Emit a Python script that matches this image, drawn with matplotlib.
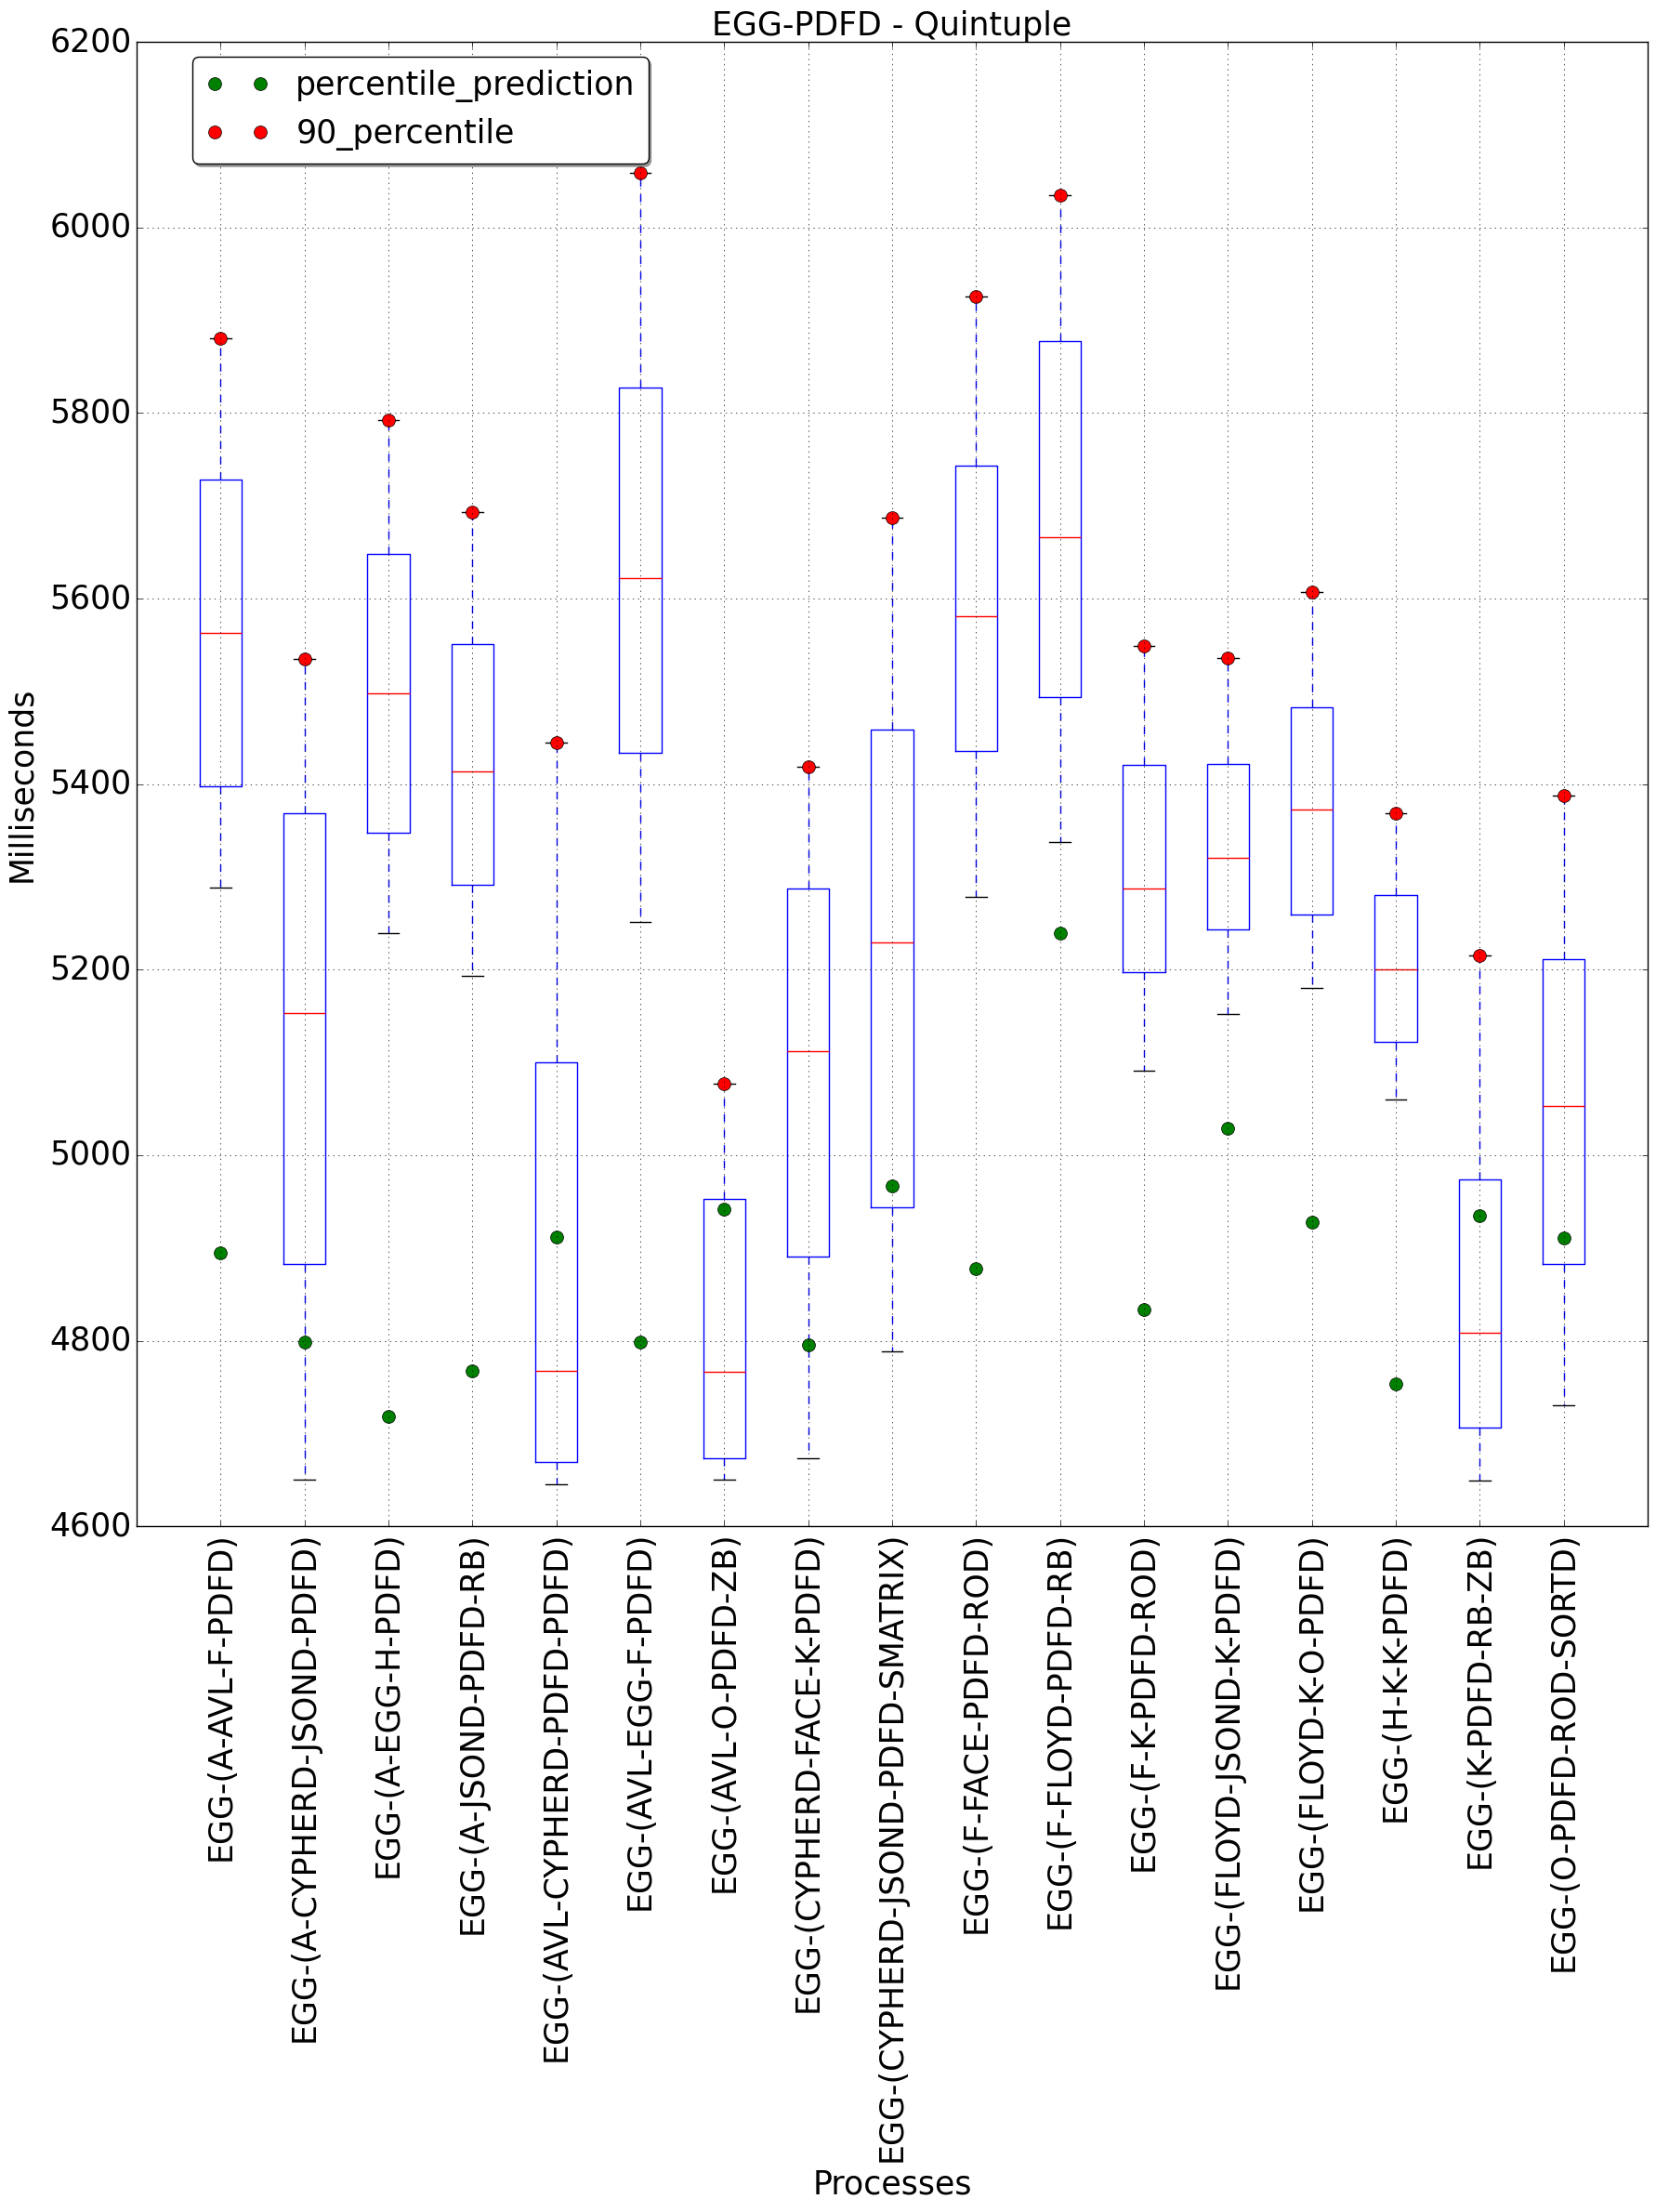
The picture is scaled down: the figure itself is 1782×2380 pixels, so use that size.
import matplotlib
matplotlib.use("Agg")
import matplotlib.pyplot as plt

plt.style.use("classic")

processes = [
    "EGG-(A-AVL-F-PDFD)",
    "EGG-(A-CYPHERD-JSOND-PDFD)",
    "EGG-(A-EGG-H-PDFD)",
    "EGG-(A-JSOND-PDFD-RB)",
    "EGG-(AVL-CYPHERD-PDFD-PDFD)",
    "EGG-(AVL-EGG-F-PDFD)",
    "EGG-(AVL-O-PDFD-ZB)",
    "EGG-(CYPHERD-FACE-K-PDFD)",
    "EGG-(CYPHERD-JSOND-PDFD-SMATRIX)",
    "EGG-(F-FACE-PDFD-ROD)",
    "EGG-(F-FLOYD-PDFD-RB)",
    "EGG-(F-K-PDFD-ROD)",
    "EGG-(FLOYD-JSOND-K-PDFD)",
    "EGG-(FLOYD-K-O-PDFD)",
    "EGG-(H-K-K-PDFD)",
    "EGG-(K-PDFD-RB-ZB)",
    "EGG-(O-PDFD-ROD-SORTD)",
]

# box statistics (ms)
whisker_low = [5289, 4650, 5239, 5193, 4645, 5251, 4650, 4673, 4789, 5278, 5338, 5091, 5152, 5180, 5060, 4649, 4730]
q1 = [5398, 4883, 5348, 5292, 4669, 5434, 4673, 4891, 4944, 5436, 5494, 5197, 5243, 5259, 5122, 4706, 4883]
median = [5563, 5153, 5498, 5414, 4768, 5622, 4767, 5112, 5229, 5581, 5666, 5287, 5321, 5373, 5200, 4809, 5053]
q3 = [5728, 5369, 5648, 5551, 5100, 5828, 4953, 5287, 5459, 5743, 5878, 5421, 5422, 5483, 5280, 4974, 5211]
p90 = [5881, 5535, 5792, 5693, 5445, 6059, 5077, 5419, 5687, 5926, 6035, 5549, 5536, 5607, 5369, 5215, 5388]
prediction = [4895, 4799, 4718, 4768, 4912, 4799, 4942, 4796, 4967, 4878, 5239, 4834, 5029, 4928, 4753, 4935, 4911]

positions = list(range(1, len(processes) + 1))
stats = [
    {"whislo": lo, "q1": a, "med": m, "q3": b, "whishi": hi, "fliers": []}
    for lo, a, m, b, hi in zip(whisker_low, q1, median, q3, p90)
]

fig = plt.figure(figsize=(17.82, 23.80), dpi=100, facecolor="white")
ax = fig.add_axes([0.0825, 0.310, 0.9125, 0.671])

ax.bxp(stats, positions=positions, widths=0.5)
ax.plot(positions, prediction, "go", markersize=10, label="percentile_prediction")
ax.plot(positions, p90, "ro", markersize=10, label="90_percentile")

ax.set_xlim(0, len(processes) + 1)
ax.set_ylim(4600, 6200)
ax.set_xticks(positions)
ax.set_xticklabels(processes, rotation=90, fontsize=25)
ax.tick_params(axis="y", labelsize=25)
ax.grid(True)

ax.set_title("EGG-PDFD - Quintuple", fontsize=25)
ax.set_xlabel("Processes", fontsize=25)
ax.set_ylabel("Milliseconds", fontsize=25)
ax.xaxis.set_label_coords(0.5, -0.433)
ax.yaxis.set_label_coords(-0.066, 0.5)

ax.legend(loc="upper left", bbox_to_anchor=(0.037, 0.99), borderaxespad=0,
          numpoints=2, fontsize=25, shadow=True, fancybox=True)

fig.savefig("out.png", dpi=100, facecolor="white")
